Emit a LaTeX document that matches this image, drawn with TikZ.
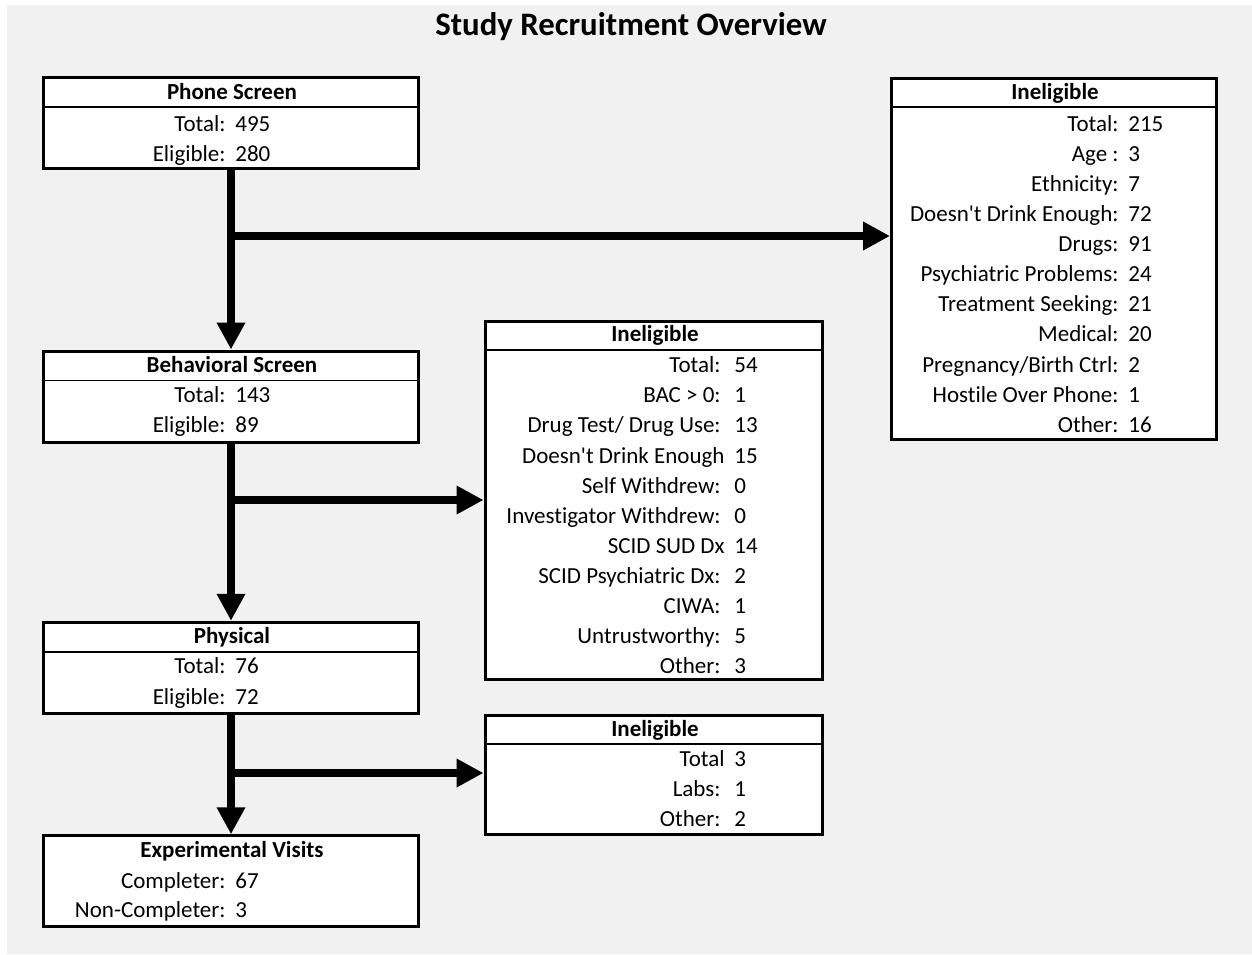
\documentclass[tikz,border=0pt]{standalone}
\usepackage{fontspec}
\setmainfont{Carlito}[Ligatures={TeXOff,NoCommon}]
\usetikzlibrary{arrows.meta}
\definecolor{bggray}{RGB}{241,241,241}

\begin{document}
\begin{tikzpicture}[x=0.5pt, y=-0.5pt, font=\fontsize{11.5}{14}\selectfont,
    box/.style = {draw, line width=1.5pt, fill=white, inner sep=0pt},
    rule/.style = {line width=0.8pt},
    head/.style = {anchor=base, inner sep=0pt, font=\fontsize{11.5}{14}\selectfont\bfseries},
    lab/.style = {anchor=base east, inner sep=0pt},
    val/.style = {anchor=base west, inner sep=0pt},
    flow/.style = {line width=4pt, -{Triangle[width=13.5pt, length=13.5pt]}}]
    \useasboundingbox (0,0) rectangle (1252,954);
    \fill[bggray] (7,5) rectangle (1252,954);
    \node[anchor=base, font=\fontsize{16.4}{20}\selectfont\bfseries] (title) at (631,35) {Study Recruitment Overview};

    % boxes
    \node[box, minimum width=187.5pt, minimum height=45.25pt] (phone) at (231,122.75) {};
    \node[box, minimum width=187.5pt, minimum height=45.5pt] (behav) at (231,396.5) {};
    \node[box, minimum width=187.5pt, minimum height=45.75pt] (phys) at (231,668) {};
    \node[box, minimum width=187.5pt, minimum height=45.25pt] (expv) at (231,881) {};
    \node[box, minimum width=162.5pt, minimum height=180.5pt] (inel1) at (1054,259) {};
    \node[box, minimum width=168.75pt, minimum height=179pt] (inel2) at (653.75,500.5) {};
    \node[box, minimum width=168.75pt, minimum height=59.25pt] (inel3) at (653.75,774.75) {};
    \draw[rule] (phone.west |- 0,107) -- (phone.east |- 0,107);
    \draw[rule] (behav.west |- 0,380.5) -- (behav.east |- 0,380.5);
    \draw[rule] (phys.west |- 0,652) -- (phys.east |- 0,652);
    \draw[rule] (inel1.west |- 0,107) -- (inel1.east |- 0,107);
    \draw[rule] (inel2.west |- 0,350) -- (inel2.east |- 0,350);
    \draw[rule] (inel3.west |- 0,744) -- (inel3.east |- 0,744);

    % arrows
    \coordinate (b1) at (231,236);
    \coordinate (b2) at (231,500);
    \coordinate (b3) at (231,773);
    \draw[flow] (phone) -- (behav);
    \draw[flow] (behav) -- (phys);
    \draw[flow] (phys) -- (expv);
    \draw[flow] (b1) -- (b1 -| inel1.west);
    \draw[flow] (b2) -- (b2 -| inel2.west);
    \draw[flow] (b3) -- (b3 -| inel3.west);

    % phone screen
    \node[head] (ph) at (232,99) {Phone Screen};
    \node[lab] (pl1) at (226,131) {Total:}; \node[val] (pv1) at (235,131) {495};
    \node[lab] (pl2) at (226,161) {Eligible:}; \node[val] (pv2) at (235,161) {280};

    % behavioral screen
    \node[head] (bh) at (232,372) {Behavioral Screen};
    \node[lab] (bl1) at (226,402) {Total:}; \node[val] (bv1) at (235,402) {143};
    \node[lab] (bl2) at (226,432) {Eligible:}; \node[val] (bv2) at (235,432) {89};

    % physical
    \node[head] (yh) at (232,643) {Physical};
    \node[lab] (yl1) at (226,673) {Total:}; \node[val] (yv1) at (235,673) {76};
    \node[lab] (yl2) at (226,704) {Eligible:}; \node[val] (yv2) at (235,704) {72};

    % experimental visits
    \node[head] (eh) at (232,857) {Experimental Visits};
    \node[lab] (el1) at (226,888) {Completer:}; \node[val] (ev1) at (235,888) {67};
    \node[lab] (el2) at (226,917) {Non-Completer:}; \node[val] (ev2) at (235,917) {3};

    % ineligible after phone screen
    \node[head] (i1h) at (1055,99) {Ineligible};
    \node[lab] (i1l1) at (1119,131) {Total:}; \node[val] (i1v1) at (1128,131) {215};
    \node[lab] (i1l2) at (1119,161) {Age :}; \node[val] (i1v2) at (1128,161) {3};
    \node[lab] (i1l3) at (1119,191) {Ethnicity:}; \node[val] (i1v3) at (1128,191) {7};
    \node[lab] (i1l4) at (1119,221) {Doesn't Drink Enough:}; \node[val] (i1v4) at (1128,221) {72};
    \node[lab] (i1l5) at (1119,251) {Drugs:}; \node[val] (i1v5) at (1128,251) {91};
    \node[lab] (i1l6) at (1119,281) {Psychiatric Problems:}; \node[val] (i1v6) at (1128,281) {24};
    \node[lab] (i1l7) at (1119,311) {Treatment Seeking:}; \node[val] (i1v7) at (1128,311) {21};
    \node[lab] (i1l8) at (1119,341) {Medical:}; \node[val] (i1v8) at (1128,341) {20};
    \node[lab] (i1l9) at (1119,372) {Pregnancy/Birth Ctrl:}; \node[val] (i1v9) at (1128,372) {2};
    \node[lab] (i1l10) at (1119,402) {Hostile Over Phone:}; \node[val] (i1v10) at (1128,402) {1};
    \node[lab] (i1l11) at (1119,432) {Other:}; \node[val] (i1v11) at (1128,432) {16};

    % ineligible after behavioral screen
    \node[head] (i2h) at (655,341) {Ineligible};
    \node[lab] (i2l1) at (721,372) {Total:}; \node[val] (i2v1) at (734,372) {54};
    \node[lab] (i2l2) at (721,402) {BAC > 0:}; \node[val] (i2v2) at (734,402) {1};
    \node[lab] (i2l3) at (721,432) {Drug Test/ Drug Use:}; \node[val] (i2v3) at (734,432) {13};
    \node[lab] (i2l4) at (725,463) {Doesn't Drink Enough}; \node[val] (i2v4) at (734,463) {15};
    \node[lab] (i2l5) at (721,493) {Self Withdrew:}; \node[val] (i2v5) at (734,493) {0};
    \node[lab] (i2l6) at (721,523) {Investigator Withdrew:}; \node[val] (i2v6) at (734,523) {0};
    \node[lab] (i2l7) at (725,553) {SCID SUD Dx}; \node[val] (i2v7) at (734,553) {14};
    \node[lab] (i2l8) at (721,583) {SCID Psychiatric Dx:}; \node[val] (i2v8) at (734,583) {2};
    \node[lab] (i2l9) at (721,613) {CIWA:}; \node[val] (i2v9) at (734,613) {1};
    \node[lab] (i2l10) at (721,643) {Untrustworthy:}; \node[val] (i2v10) at (734,643) {5};
    \node[lab] (i2l11) at (721,673) {Other:}; \node[val] (i2v11) at (734,673) {3};

    % ineligible after physical
    \node[head] (i3h) at (655,736) {Ineligible};
    \node[lab] (i3l1) at (725,766) {Total}; \node[val] (i3v1) at (734,766) {3};
    \node[lab] (i3l2) at (721,796) {Labs:}; \node[val] (i3v2) at (734,796) {1};
    \node[lab] (i3l3) at (721,826) {Other:}; \node[val] (i3v3) at (734,826) {2};
\end{tikzpicture}
\end{document}
